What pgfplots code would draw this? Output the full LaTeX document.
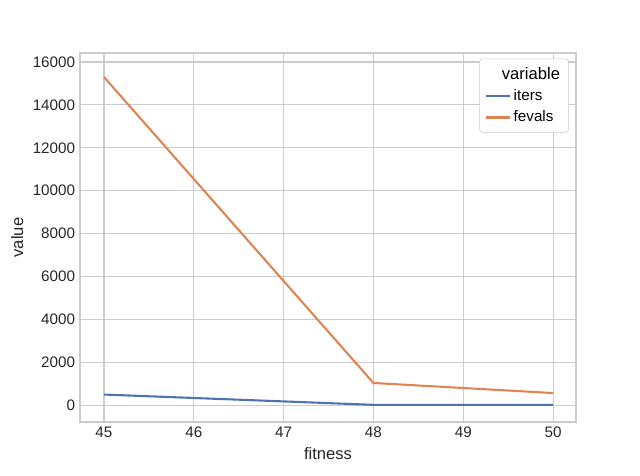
\documentclass[border=0pt]{standalone}
\usepackage{pgfplots}
\pgfplotsset{compat=1.18}
\usepackage{fontspec}
\setmainfont{Liberation Sans}
\definecolor{sblue}{HTML}{4C72B0}
\definecolor{sorange}{HTML}{DD8452}
\definecolor{gridc}{HTML}{CCCCCC}
\begin{document}
\begin{tikzpicture}
\begin{axis}[at={(0,0)},anchor=south west,scale only axis,
 width=358.5pt,height=266.7pt,
 xmin=44.733,xmax=50.256,ymin=-793,ymax=16420,
 xtick={45,46,47,48,49,50},ytick={0,2000,4000,6000,8000,10000,12000,14000,16000},
 scaled y ticks=false,
 yticklabel style={/pgf/number format/.cd,1000 sep={},assume math mode=true},
 xticklabel style={/pgf/number format/assume math mode=true},
 tick label style={font=\fontsize{11}{13}\selectfont,text=black!85},
 label style={font=\fontsize{12}{14}\selectfont,text=black!85},
 xlabel={fitness},ylabel={value},
 grid=major,major grid style={gridc,line width=0.8pt},
 axis line style={gridc,line width=1pt},
 major tick length=0pt, tick style={draw=none},
 legend style={at={(0.985,0.985)},anchor=north east,draw=gridc,rounded corners=2pt,font=\fontsize{11}{13}\selectfont,cells={anchor=west},row sep=2pt,inner sep=4pt},
 legend cell align=left,
]
\addlegendimage{empty legend}\addlegendentry{\hspace{-0.3cm}\fontsize{12}{14}\selectfont variable}
\addplot[sblue,line width=1.5pt] coordinates {(45,490) (48,10) (50,5)};
\addlegendentry{iters}
\addplot[sorange,line width=1.5pt] coordinates {(45,15300) (48,1030) (50,560)};
\addlegendentry{fevals}
\end{axis}
\pgfresetboundingbox
\useasboundingbox (-57.8pt,-38.3pt) rectangle (404.7pt,305pt);
\end{tikzpicture}
\end{document}
